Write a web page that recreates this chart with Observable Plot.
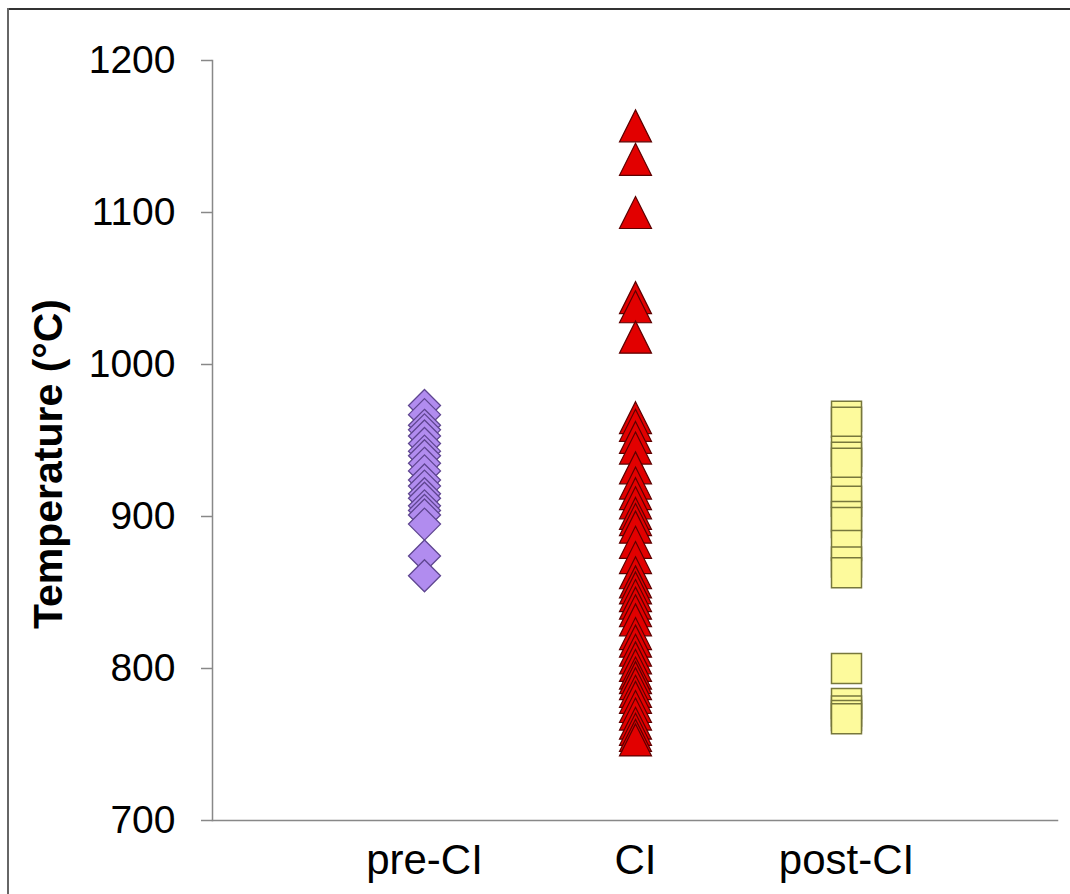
<!DOCTYPE html>
<html>
<head>
<meta charset="utf-8">
<script src="https://cdn.jsdelivr.net/npm/d3@7"></script>
<script src="https://cdn.jsdelivr.net/npm/@observablehq/plot@0.6"></script>
<style>
  html, body { margin: 0; padding: 0; background: #fff; }
  #wrap { position: relative; width: 1070px; height: 894px; overflow: hidden; font-family: "Liberation Sans", Arial, sans-serif; }
  #topline { position: absolute; left: 7px; top: 8px; width: 1063px; height: 2px; background: #333; }
  #leftline { position: absolute; left: 7px; top: 8px; width: 1.5px; height: 886px; background: #666; }
  #ylabel { position: absolute; left: 48px; top: 464px; transform: translate(-50%, -50%) rotate(-90deg); white-space: nowrap; font-weight: bold; font-size: 41px; color: #000; }
</style>
</head>
<body>
<div id="wrap">
  <div id="chart"></div>
  <div id="topline"></div>
  <div id="leftline"></div>
  <div id="ylabel"></div>
</div>
<script>
const categories = ["pre-CI", "CI", "post-CI"];
const yTicks = [700, 800, 900, 1000, 1100, 1200];
const yLabel = "Temperature (°C)";

const preCI = [973, 967, 960, 957, 953, 948, 943, 940, 935, 930, 924, 920, 915, 912, 907, 904, 901, 895, 874, 861];
const CI = [1157, 1135, 1100, 1044, 1038, 1018, 965, 960, 952, 945, 932, 922, 915, 909, 902, 898, 893, 883, 873, 863, 857, 853, 848, 843, 838, 832, 823, 818, 812, 807, 802, 797, 794, 790, 785, 781, 775, 770, 764, 760, 756, 753];
const postCI = [966, 962, 943, 939, 935, 916, 910, 900, 896, 881, 870, 863, 800, 777, 772, 769, 767];

document.getElementById("ylabel").textContent = yLabel;

const rows = (cat, vals) => vals.map(v => ({cat, v}));

const diamondSym = {draw(ctx, size) { const a = Math.sqrt(size / Math.PI); ctx.moveTo(0, -a); ctx.lineTo(a, 0); ctx.lineTo(0, a); ctx.lineTo(-a, 0); ctx.closePath(); }};
const triSym = {draw(ctx, size) { const a = Math.sqrt(size / Math.PI); ctx.moveTo(0, -a); ctx.lineTo(a, a); ctx.lineTo(-a, a); ctx.closePath(); }};
const squareSym = {draw(ctx, size) { const a = Math.sqrt(size / Math.PI); ctx.rect(-a, -a, 2 * a, 2 * a); }};

const chart = Plot.plot({
  width: 1070,
  height: 894,
  marginLeft: 212,
  marginRight: 13,
  marginTop: 60,
  marginBottom: 74,
  style: {fontFamily: "'Liberation Sans', Arial, sans-serif", background: "transparent"},
  x: {type: "point", domain: categories, padding: 1},
  y: {domain: [700, 1200]},
  marks: [
    Plot.axisY({ticks: yTicks, tickFormat: d => String(d), tickSize: 11, tickPadding: 26, fontSize: 39, stroke: "#888", strokeWidth: 1.5, label: null, color: "#000"}),
    Plot.axisX({tickSize: 0, tickPadding: 24, fontSize: 42, label: null, color: "#000"}),
    Plot.frame({anchor: "left", stroke: "#888", strokeWidth: 1.5}),
    Plot.frame({anchor: "bottom", stroke: "#888", strokeWidth: 1.5}),
    Plot.dot(rows("pre-CI", preCI), {x: "cat", y: "v", symbol: diamondSym, r: 16, fill: "#b18cef", stroke: "#5e4590", strokeWidth: 1.3}),
    Plot.dot(rows("CI", CI), {x: "cat", y: "v", symbol: triSym, r: 16, fill: "#e20000", stroke: "#5c0000", strokeWidth: 1.2}),
    Plot.dot(rows("post-CI", postCI), {x: "cat", y: "v", symbol: squareSym, r: 15, fill: "#fdfa9c", stroke: "#77773c", strokeWidth: 1.5})
  ]
});
document.getElementById("chart").append(chart);
</script>
</body>
</html>
